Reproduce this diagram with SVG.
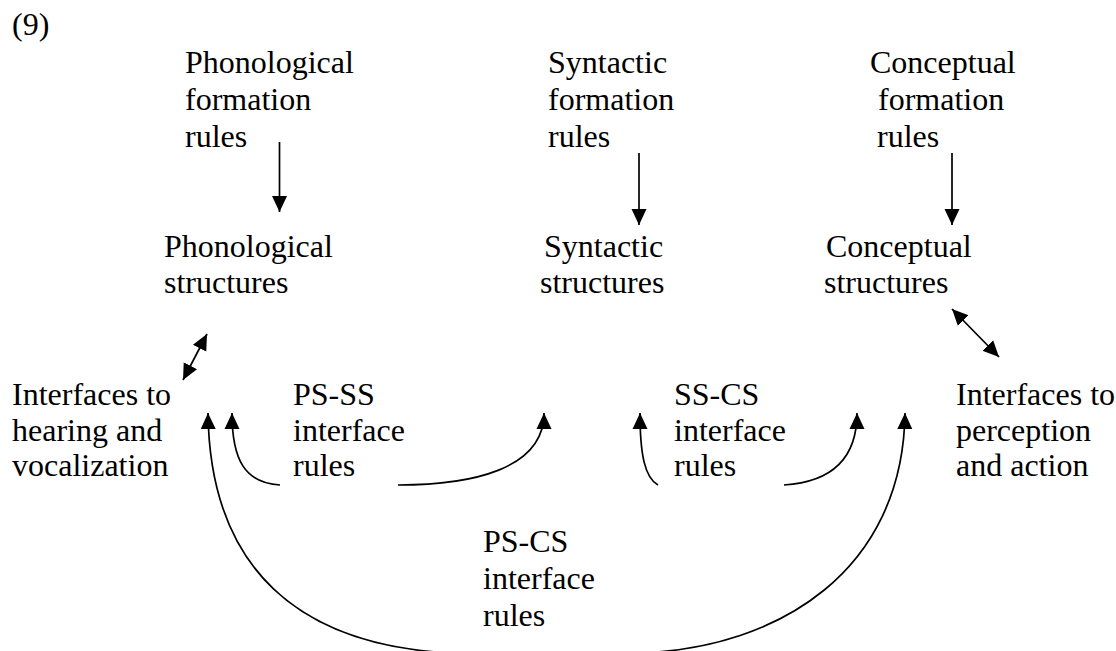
<svg xmlns="http://www.w3.org/2000/svg" width="1116" height="651" viewBox="0 0 1116 651">
<style>
.c{fill:none;stroke:#000;stroke-width:1.7}
</style>
<defs>
<marker id="ah" markerUnits="userSpaceOnUse" markerWidth="18" markerHeight="18" viewBox="0 0 18 18" refX="16" refY="9" orient="auto-start-reverse">
<path d="M0,1.5 L16,9 L0,16.5 z" fill="#000"/>
</marker>
</defs>
<rect width="1116" height="651" fill="#fff"/>
<g font-family="Liberation Serif" font-size="32" fill="#000">
<g id="label-9"><text x="12" y="35">(9)</text></g>
<g id="pfr"><text x="185" y="73">Phonological</text><text x="185" y="110">formation</text><text x="185" y="147">rules</text></g>
<g id="sfr"><text x="548" y="73">Syntactic</text><text x="548" y="110">formation</text><text x="548" y="147">rules</text></g>
<g id="cfr"><text x="870" y="73">Conceptual</text><text x="878" y="110">formation</text><text x="877" y="147">rules</text></g>
<g id="ps"><text x="164" y="257">Phonological</text><text x="164" y="293">structures</text></g>
<g id="ss"><text x="544" y="257">Syntactic</text><text x="540" y="293">structures</text></g>
<g id="cs"><text x="826" y="257">Conceptual</text><text x="824" y="293">structures</text></g>
<g id="ihv"><text x="12" y="405">Interfaces to</text><text x="12" y="441">hearing and</text><text x="12" y="476">vocalization</text></g>
<g id="psss"><text x="293" y="405">PS-SS</text><text x="293" y="441">interface</text><text x="293" y="476">rules</text></g>
<g id="sscs"><text x="674" y="405">SS-CS</text><text x="674" y="441">interface</text><text x="674" y="476">rules</text></g>
<g id="ipa"><text x="956" y="405">Interfaces to</text><text x="956" y="441">perception</text><text x="956" y="476">and action</text></g>
<g id="pscs"><text x="483" y="552">PS-CS</text><text x="483" y="589">interface</text><text x="483" y="626">rules</text></g>
</g>
<g id="connectors">
<path class="c" d="M279.5,142 L279.5,212" marker-end="url(#ah)"/>
<path class="c" d="M639,153 L639,225" marker-end="url(#ah)"/>
<path class="c" d="M952,153 L952,225" marker-end="url(#ah)"/>
<path class="c" d="M183,380 L207,334" marker-start="url(#ah)" marker-end="url(#ah)"/>
<path class="c" d="M952,309 L999,357" marker-start="url(#ah)" marker-end="url(#ah)"/>
<path class="c" d="M280,485 C245,483 232,460 232,413" marker-end="url(#ah)"/>
<path class="c" d="M398,485 C470,485 544,470 544,413" marker-end="url(#ah)"/>
<path class="c" d="M658,485 C645,478 640,455 640,413" marker-end="url(#ah)"/>
<path class="c" d="M784,485 C830,482 857,460 857,413" marker-end="url(#ah)"/>
<path class="c" d="M450,653 C300,645 210,570 208,413" marker-end="url(#ah)"/>
<path class="c" d="M640,653 C780,648 903,570 905,413" marker-end="url(#ah)"/>
</g>
</svg>
